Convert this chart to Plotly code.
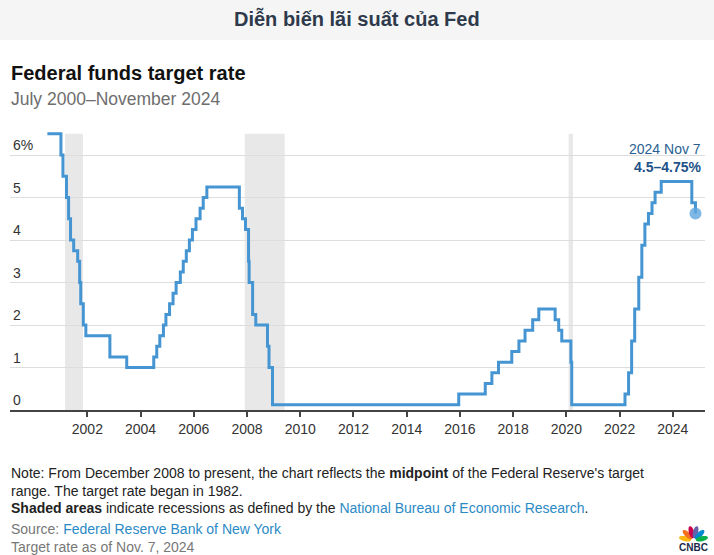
import math
import plotly.graph_objects as go

# ---------------- data ----------------
change_dates = [
    "2000-07-01", "2001-01-03", "2001-01-31", "2001-03-20", "2001-04-18", "2001-05-15",
    "2001-06-27", "2001-08-21", "2001-09-17", "2001-10-02", "2001-11-06", "2001-12-11",
    "2002-11-06", "2003-06-25", "2004-06-30", "2004-08-10", "2004-09-21", "2004-11-10",
    "2004-12-14", "2005-02-02", "2005-03-22", "2005-05-03", "2005-06-30", "2005-08-09",
    "2005-09-20", "2005-11-01", "2005-12-13", "2006-01-31", "2006-03-28", "2006-05-10",
    "2006-06-29", "2007-09-18", "2007-10-31", "2007-12-11", "2008-01-22", "2008-01-30",
    "2008-03-18", "2008-04-30", "2008-10-08", "2008-10-29", "2008-12-16", "2015-12-16",
    "2016-12-14", "2017-03-15", "2017-06-14", "2017-12-13", "2018-03-21", "2018-06-13",
    "2018-09-26", "2018-12-19", "2019-07-31", "2019-09-18", "2019-10-30", "2020-03-03",
    "2020-03-15", "2022-03-16", "2022-05-04", "2022-06-15", "2022-07-27", "2022-09-21",
    "2022-11-02", "2022-12-14", "2023-02-01", "2023-03-22", "2023-05-03", "2023-07-26",
    "2024-09-18", "2024-11-07",
]
target_rate = [
    6.5, 6.0, 5.5, 5.0, 4.5, 4.0,
    3.75, 3.5, 3.0, 2.5, 2.0, 1.75,
    1.25, 1.0, 1.25, 1.5, 1.75, 2.0,
    2.25, 2.5, 2.75, 3.0, 3.25, 3.5,
    3.75, 4.0, 4.25, 4.5, 4.75, 5.0,
    5.25, 4.75, 4.5, 4.25, 3.5, 3.0,
    2.25, 2.0, 1.5, 1.0, 0.125, 0.375,
    0.625, 0.875, 1.125, 1.375, 1.625, 1.875,
    2.125, 2.375, 2.125, 1.875, 1.625, 1.125,
    0.125, 0.375, 0.875, 1.625, 2.375, 3.125,
    3.875, 4.375, 4.625, 4.875, 5.125, 5.375,
    4.875, 4.625,
]
recession_starts = ["2001-03-01", "2007-12-01", "2020-02-01"]
recession_ends = ["2001-11-01", "2009-06-01", "2020-04-01"]
recession_top = 6.5

tick_years = ["2002-01-01", "2004-01-01", "2006-01-01", "2008-01-01", "2010-01-01", "2012-01-01",
              "2014-01-01", "2016-01-01", "2018-01-01", "2020-01-01", "2022-01-01", "2024-01-01"]
tick_year_labels = ["2002", "2004", "2006", "2008", "2010", "2012",
                    "2014", "2016", "2018", "2020", "2022", "2024"]
y_tick_vals = [0, 1, 2, 3, 4, 5, 6]
y_tick_labels = ["0", "1", "2", "3", "4", "5", "6%"]

last_label_date = "2024 Nov 7"
last_label_value = "4.5–4.75%"

# ---------------- layout geometry ----------------
W, H = 714, 555
L, R, T, B = 10, 9, 121, 145
PW, PH = W - L - R, H - T - B

def pxx(x):
    return (x - L) / PW

def pxy(y):
    return (H - B - y) / PH

FONT = "Liberation Sans, Arial, sans-serif"
LINE_BLUE = "#4595d3"

fig = go.Figure()

fig.add_trace(go.Scatter(
    x=change_dates, y=target_rate, mode="lines", line_shape="hv",
    line=dict(color=LINE_BLUE, width=3), hoverinfo="skip", showlegend=False,
))
fig.add_trace(go.Scatter(
    x=[change_dates[-1]], y=[target_rate[-1]], mode="markers",
    marker=dict(size=12, color="rgba(95,165,222,0.8)", line=dict(width=0)),
    hoverinfo="skip", showlegend=False,
))

shapes = []
for s, e in zip(recession_starts, recession_ends):
    shapes.append(dict(type="rect", xref="x", yref="y", x0=s, x1=e, y0=0, y1=recession_top,
                       fillcolor="#e8e8e8", line=dict(width=0), layer="below"))

# top banner
shapes.append(dict(type="rect", xref="paper", yref="paper", x0=pxx(0), x1=pxx(W),
                   y0=pxy(40), y1=pxy(0), fillcolor="#f5f5f6", line=dict(width=0), layer="below"))

# CNBC peacock logo
petal_colors = ["#fcb711", "#f37021", "#cc004c", "#6460aa", "#0089d0", "#0db14b"]
cx, cy = 693.5, 540.5
angles = [168, 136, 104, 76, 44, 12]
for col, ang in zip(petal_colors, angles):
    a = math.radians(ang)
    ux, uy = math.cos(a), -math.sin(a)
    vx, vy = -uy, ux
    mx, my = cx + ux * 8.5, cy + uy * 8.5
    pts = []
    for k in range(24):
        t = 2 * math.pi * k / 24
        ex, ey = 6.2 * math.cos(t), 2.6 * math.sin(t)
        px = mx + ux * ex + vx * ey
        py = my + uy * ex + vy * ey
        pts.append((pxx(px), pxy(py)))
    path = "M " + " L ".join(f"{p[0]:.5f},{p[1]:.5f}" for p in pts) + " Z"
    shapes.append(dict(type="path", xref="paper", yref="paper", path=path,
                       fillcolor=col, line=dict(width=0)))

annotations = []

def ann(text, x, y, size, color, xanchor="left", bold=False, family=FONT):
    annotations.append(dict(
        text=f"<b>{text}</b>" if bold else text, xref="paper", yref="paper",
        x=pxx(x), y=pxy(y), xanchor=xanchor, yanchor="middle", showarrow=False,
        font=dict(size=size, color=color, family=family),
    ))

ann("Diễn biến lãi suất của Fed", 357, 18, 20, "#2e3a4b", xanchor="center", bold=True)
ann("Federal funds target rate", 9, 73, 20, "#111111", bold=True)
ann("July 2000–November 2024", 9, 99, 17.5, "#6e6e6e")

ann(last_label_date, 703, 149, 14, "#2a5f92", xanchor="right")
ann(last_label_value, 703, 167, 14, "#1e5289", xanchor="right", bold=True)

ann("Note: From December 2008 to present, the chart reflects the <b>midpoint</b> of the Federal Reserve's target",
    9, 473, 14, "#222222")
ann("range. The target rate began in 1982.", 9, 491, 14, "#222222")
ann("<b>Shaded areas</b> indicate recessions as defined by the "
    "<span style='color:#2b8ac6'>National Bureau of Economic Research</span>.",
    9, 508, 14, "#222222")
ann("Source: <span style='color:#2b8ac6'>Federal Reserve Bank of New York</span>", 9, 529, 14, "#777777")
ann("Target rate as of Nov. 7, 2024", 9, 547, 14, "#777777")
ann("CNBC", 693.5, 547.5, 10, "#1b2a4a", xanchor="center", bold=True)

fig.update_layout(
    width=W, height=H,
    margin=dict(l=L, r=R, t=T, b=B, pad=0),
    paper_bgcolor="white", plot_bgcolor="white",
    shapes=shapes, annotations=annotations,
    font=dict(family=FONT, color="#333333"),
    xaxis=dict(
        type="date", range=["1999-02-04", "2025-03-18"],
        tickvals=tick_years, ticktext=tick_year_labels,
        ticks="outside", ticklen=5, tickwidth=1.5, tickcolor="#444444",
        showline=True, linecolor="#444444", linewidth=1.5,
        showgrid=False, zeroline=False,
        tickfont=dict(size=14, color="#333333", family=FONT),
        fixedrange=True,
    ),
    yaxis=dict(
        range=[0, 6.8], tickvals=y_tick_vals, ticktext=y_tick_labels,
        ticklabelposition="inside top", ticks="",
        showgrid=True, gridcolor="#dddddd", gridwidth=1,
        zeroline=False, showline=False,
        tickfont=dict(size=14, color="#333333", family=FONT),
        fixedrange=True,
    ),
)

fig.write_html(
    "out.html",
    config={"displayModeBar": False},
    post_script="document.body.style.margin='0';document.body.style.overflow='hidden';",
)
